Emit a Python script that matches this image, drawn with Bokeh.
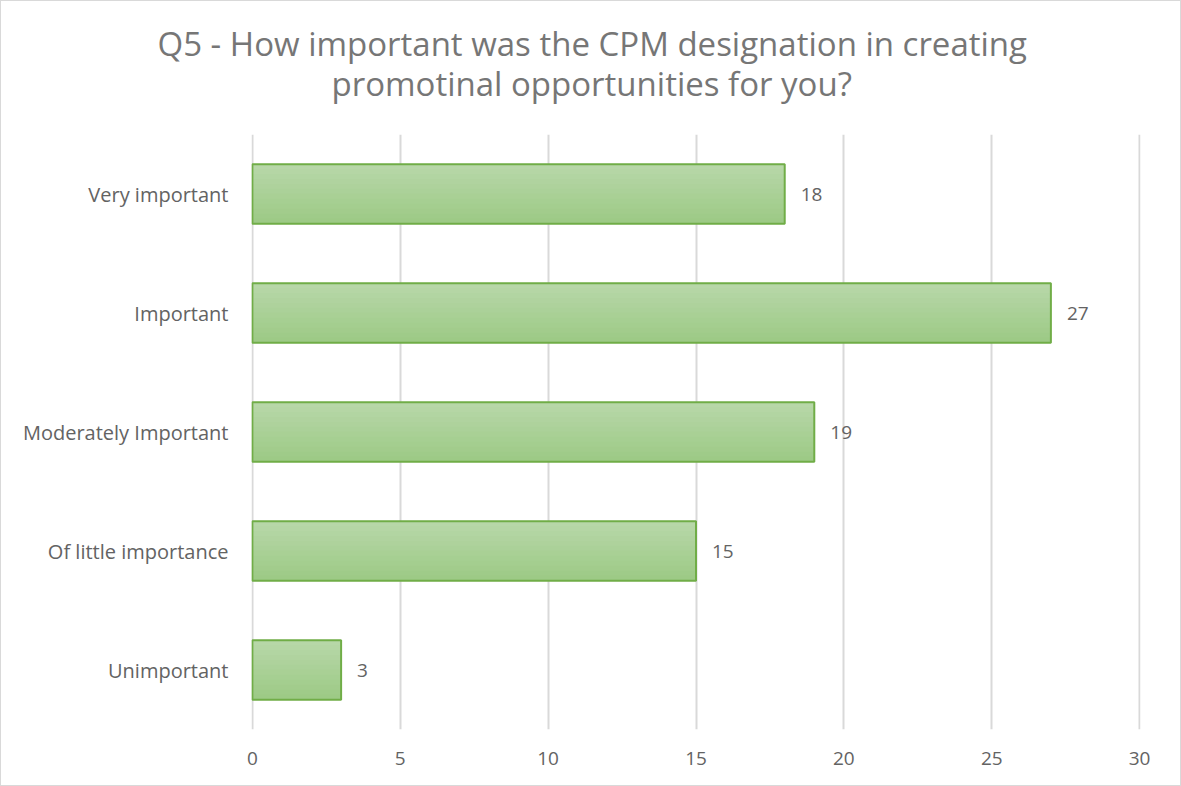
from bokeh.plotting import figure
from bokeh.models import ColumnDataSource, FactorRange, Title
from bokeh.transform import dodge
from bokeh.core.properties import value
from bokeh.embed import file_html
from bokeh.resources import INLINE

categories = ["Very important", "Important", "Moderately Important", "Of little importance", "Unimportant"]
counts = [18, 27, 19, 15, 3]
x_ticks = [0, 5, 10, 15, 20, 25, 30]
title_lines = ["Q5 - How important was the CPM designation in creating",
               "promotinal opportunities for you?"]

FONT = "Open Sans"
LABEL_COLOR = "#636363"
TITLE_COLOR = "#767676"

src = ColumnDataSource(dict(cat=categories, val=counts, lab=[str(v) for v in counts]))

p = figure(width=1181, height=786, output_backend="svg", toolbar_location=None,
           y_range=FactorRange(*reversed(categories)), x_range=(-0.03, 30.03),
           min_border_left=250, min_border_right=42, min_border_top=133, min_border_bottom=58)
p.title = None
p.outline_line_color = None
p.styles = {"border": "1px solid #d9d9d9", "box-sizing": "border-box"}

# gradient-like bars via thin strips (lighter at top, darker at bottom)
n = 12
bar_h = 0.5
top_col = (183, 215, 168)
bot_col = (157, 202, 134)
for i in range(n):
    t = i / (n - 1)
    c = tuple(int(round(top_col[k] + (bot_col[k] - top_col[k]) * t)) for k in range(3))
    off = bar_h / 2 - (i + 0.5) * bar_h / n
    p.hbar(y=dodge("cat", off, range=p.y_range), right="val", left=0, height=bar_h / n + 0.003,
           source=src, fill_color="#%02x%02x%02x" % c, line_color=None)
p.hbar(y="cat", right="val", left=0, height=bar_h, source=src,
       fill_color=None, line_color="#70ad47", line_width=2)

p.text(x="val", y="cat", text="lab", source=src, x_offset=16,
       text_align="left", text_baseline="middle", text_font=value(FONT),
       text_font_size="19px", text_color=LABEL_COLOR)

p.xaxis.ticker = x_ticks
p.xaxis.axis_line_color = None
p.xaxis.major_tick_line_color = None
p.xaxis.minor_tick_line_color = None
p.xaxis.major_label_text_font = FONT
p.xaxis.major_label_text_font_size = "19px"
p.xaxis.major_label_text_color = LABEL_COLOR
p.xaxis.major_label_standoff = 16

p.yaxis.axis_line_color = None
p.yaxis.major_tick_line_color = None
p.yaxis.major_label_text_font = FONT
p.yaxis.major_label_text_font_size = "20px"
p.yaxis.major_label_text_color = LABEL_COLOR
p.yaxis.major_label_standoff = 17

p.xgrid.grid_line_color = "#d9d9d9"
p.xgrid.grid_line_width = 2
p.ygrid.grid_line_color = None

p.add_layout(Title(text=title_lines[1], align="left", offset=80, text_font=FONT,
                   text_font_size="33px", text_font_style="normal", text_color=TITLE_COLOR,
                   vertical_align="bottom", standoff=58), "above")
p.add_layout(Title(text=title_lines[0], align="left", offset=-94, text_font=FONT,
                   text_font_size="33px", text_font_style="normal", text_color=TITLE_COLOR,
                   vertical_align="bottom", standoff=-72), "above")

open("out.html", "w").write(file_html(p, INLINE))
